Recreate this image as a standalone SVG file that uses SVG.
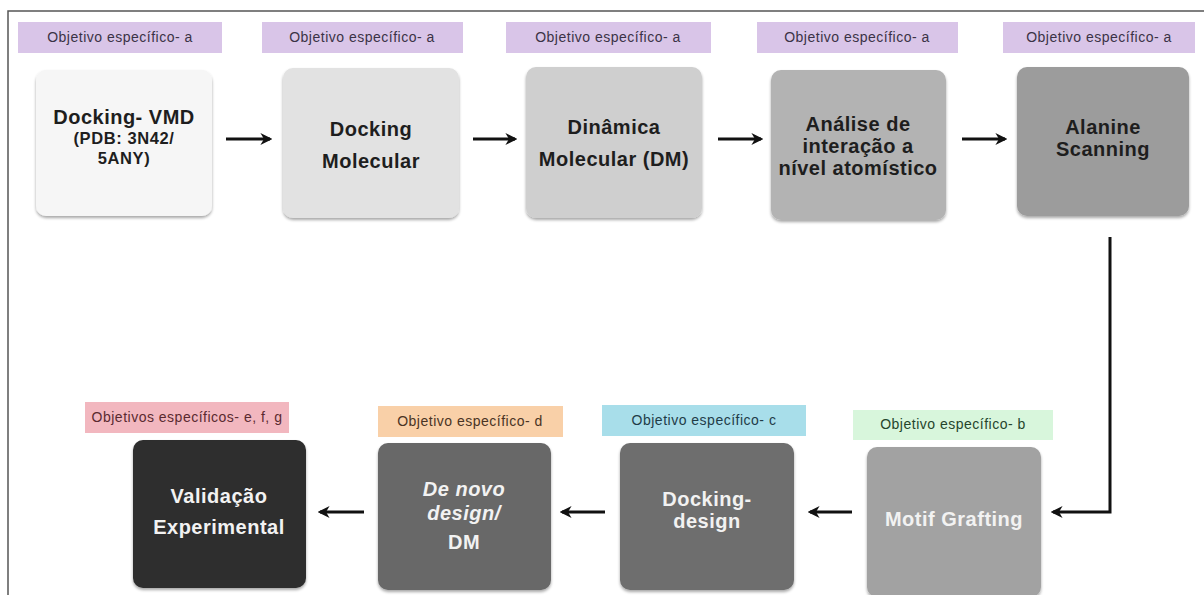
<svg xmlns="http://www.w3.org/2000/svg" width="1204" height="595" viewBox="0 0 1204 595">
  <style>
    .frame { fill: none; stroke: #555; stroke-width: 1.5; }
    .tag { stroke: none; }
    .tag-text { font-family: "Liberation Sans", Arial, sans-serif; font-size: 14px; letter-spacing: 0.5px; text-anchor: middle; }
    .box { stroke: none; filter: url(#shadow); }
    .t-dark { font-family: "Liberation Sans", Arial, sans-serif; font-weight: bold; font-size: 20px; letter-spacing: 0.5px; fill: #1e1e1e; text-anchor: middle; }
    .t-small { font-size: 16.5px; letter-spacing: 0.6px; }
    .t-light { font-family: "Liberation Sans", Arial, sans-serif; font-weight: bold; font-size: 20px; letter-spacing: 0.5px; fill: #f2f2f2; text-anchor: middle; }
    .conn { fill: none; stroke: #111; stroke-width: 3; marker-end: url(#head); }
  </style>
  <defs>
    <marker id="head" viewBox="0 0 10 10" refX="8" refY="5" markerWidth="4" markerHeight="4" orient="auto" markerUnits="strokeWidth">
      <path d="M0,0 L10,5 L0,10 L3,5 z" fill="#111"/>
    </marker>
    <filter id="shadow" x="-10%" y="-10%" width="120%" height="125%">
      <feGaussianBlur in="SourceAlpha" stdDeviation="1.5"/>
      <feOffset dy="2" result="b"/>
      <feComponentTransfer><feFuncA type="linear" slope="0.35"/></feComponentTransfer>
      <feMerge><feMergeNode/><feMergeNode in="SourceGraphic"/></feMerge>
    </filter>
  </defs>

  <rect width="1204" height="595" fill="#ffffff"/>
  <!-- outer frame: top and left edges -->
  <path class="frame" d="M8,600 L8,11 L1210,11"/>

  <!-- top row -->
  <g id="step-docking-vmd">
    <rect class="tag" x="18" y="22" width="204" height="31" fill="#d9c5e8"/>
    <text class="tag-text" x="120" y="42" fill="#3b3346">Objetivo específico- a</text>
    <rect class="box" x="36" y="70" width="176" height="146" rx="10" fill="#f6f6f6"/>
    <text class="t-dark" x="124" y="124">Docking- VMD</text>
    <text class="t-dark t-small" x="124" y="144">(PDB: 3N42/</text>
    <text class="t-dark t-small" x="124" y="164">5ANY)</text>
  </g>
  <g id="step-docking-molecular">
    <rect class="tag" x="262" y="22" width="201" height="31" fill="#d9c5e8"/>
    <text class="tag-text" x="362" y="42" fill="#3b3346">Objetivo específico- a</text>
    <rect class="box" x="283" y="68" width="176" height="150" rx="10" fill="#e2e2e2"/>
    <text class="t-dark" x="371" y="136">Docking</text>
    <text class="t-dark" x="371" y="168">Molecular</text>
  </g>
  <g id="step-dinamica">
    <rect class="tag" x="506" y="22" width="205" height="31" fill="#d9c5e8"/>
    <text class="tag-text" x="608" y="42" fill="#3b3346">Objetivo específico- a</text>
    <rect class="box" x="526" y="67" width="176" height="151" rx="10" fill="#cfcfcf"/>
    <text class="t-dark" x="614" y="134">Dinâmica</text>
    <text class="t-dark" x="614" y="166">Molecular (DM)</text>
  </g>
  <g id="step-analise">
    <rect class="tag" x="757" y="22" width="201" height="31" fill="#d9c5e8"/>
    <text class="tag-text" x="857" y="42" fill="#3b3346">Objetivo específico- a</text>
    <rect class="box" x="771" y="70" width="175" height="150" rx="10" fill="#b3b3b3"/>
    <text class="t-dark" x="858" y="131">Análise de</text>
    <text class="t-dark" x="858" y="153">interação a</text>
    <text class="t-dark" x="858" y="175">nível atomístico</text>
  </g>
  <g id="step-alanine">
    <rect class="tag" x="1003" y="22" width="192" height="31" fill="#d9c5e8"/>
    <text class="tag-text" x="1099" y="42" fill="#3b3346">Objetivo específico- a</text>
    <rect class="box" x="1017" y="67" width="172" height="149" rx="10" fill="#9c9c9c"/>
    <text class="t-dark" x="1103" y="134">Alanine</text>
    <text class="t-dark" x="1103" y="156">Scanning</text>
  </g>

  <!-- bottom row -->
  <g id="step-validacao">
    <rect class="tag" x="85" y="402" width="204" height="31" fill="#f2b7bf"/>
    <text class="tag-text" x="187" y="422" fill="#5a2a30">Objetivos específicos- e, f, g</text>
    <rect class="box" x="133" y="440" width="173" height="148" rx="10" fill="#2e2e2e"/>
    <text class="t-light" x="219" y="503">Validação</text>
    <text class="t-light" x="219" y="534">Experimental</text>
  </g>
  <g id="step-de-novo">
    <rect class="tag" x="378" y="406" width="185" height="31" fill="#f9d0a8"/>
    <text class="tag-text" x="470" y="426" fill="#4a3424">Objetivo específico- d</text>
    <rect class="box" x="378" y="443" width="173" height="147" rx="10" fill="#676767"/>
    <text class="t-light" x="464" y="496" font-style="italic" font-weight="normal">De novo</text>
    <text class="t-light" x="464" y="520" font-style="italic" font-weight="normal">design/</text>
    <text class="t-light" x="464" y="549">DM</text>
  </g>
  <g id="step-docking-design">
    <rect class="tag" x="602" y="405" width="204" height="31" fill="#a8deea"/>
    <text class="tag-text" x="704" y="425" fill="#1f3c48">Objetivo específico- c</text>
    <rect class="box" x="620" y="443" width="174" height="147" rx="10" fill="#6e6e6e"/>
    <text class="t-light" x="707" y="506">Docking-</text>
    <text class="t-light" x="707" y="528">design</text>
  </g>
  <g id="step-motif">
    <rect class="tag" x="853" y="410" width="200" height="30" fill="#d8f6dc"/>
    <text class="tag-text" x="953" y="429" fill="#25452c">Objetivo específico- b</text>
    <rect class="box" x="867" y="447" width="174" height="150" rx="10" fill="#a2a2a2"/>
    <text class="t-light" x="954" y="526">Motif Grafting</text>
  </g>

  <!-- connectors -->
  <g id="connectors">
    <path class="conn" d="M226,139 L270,139"/>
    <path class="conn" d="M473,139 L515,139"/>
    <path class="conn" d="M718,139 L761,139"/>
    <path class="conn" d="M962,139 L1005,139"/>
    <path class="conn" d="M1110,237 L1110,512 L1053,512"/>
    <path class="conn" d="M852,512 L810,512"/>
    <path class="conn" d="M605,512 L562,512"/>
    <path class="conn" d="M364,512 L320,512"/>
  </g>
</svg>
